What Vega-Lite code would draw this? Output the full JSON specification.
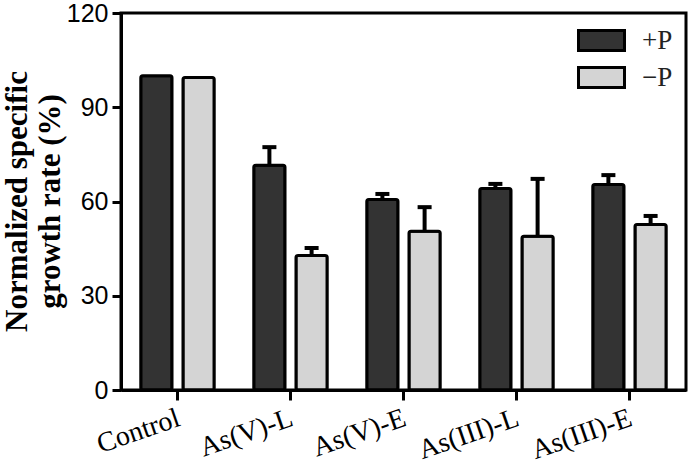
{
  "$schema": "https://vega.github.io/schema/vega-lite/v6.json",
  "width": 565,
  "height": 377,
  "autosize": "none",
  "padding": {"left": 121, "top": 13, "right": 5, "bottom": 75},
  "background": "white",
  "data": {
    "values": [
      {"group": "Control", "treatment": "+P", "value": 100, "upper": null},
      {"group": "Control", "treatment": "−P", "value": 99.5, "upper": null},
      {"group": "As(V)-L", "treatment": "+P", "value": 71.5, "upper": 77.3},
      {"group": "As(V)-L", "treatment": "−P", "value": 42.8, "upper": 45.2},
      {"group": "As(V)-E", "treatment": "+P", "value": 60.6, "upper": 62.4},
      {"group": "As(V)-E", "treatment": "−P", "value": 50.5, "upper": 58.2},
      {"group": "As(III)-L", "treatment": "+P", "value": 64.1, "upper": 65.6},
      {"group": "As(III)-L", "treatment": "−P", "value": 48.9, "upper": 67.2},
      {"group": "As(III)-E", "treatment": "+P", "value": 65.4, "upper": 68.4},
      {"group": "As(III)-E", "treatment": "−P", "value": 52.7, "upper": 55.4}
    ]
  },
  "encoding": {
    "x": {
      "field": "group",
      "type": "nominal",
      "sort": ["Control", "As(V)-L", "As(V)-E", "As(III)-L", "As(III)-E"],
      "scale": {"paddingInner": 0.35, "paddingOuter": 0.175},
      "axis": {
        "title": null,
        "labelAngle": -19,
        "labelAlign": "right",
        "labelBaseline": "top",
        "labelPadding": 4,
        "labelOffset": -3,
        "labelFont": "Liberation Serif",
        "labelFontSize": 28,
        "tickSize": 10
      }
    },
    "xOffset": {
      "field": "treatment",
      "type": "nominal",
      "sort": ["+P", "−P"],
      "scale": {"paddingInner": 0.26, "paddingOuter": 0}
    }
  },
  "layer": [
    {
      "transform": [{"filter": "datum.upper != null"}],
      "mark": {"type": "rule", "strokeWidth": 4, "color": "black"},
      "encoding": {
        "y": {"field": "value", "type": "quantitative", "scale": {"domain": [0, 120]}, "axis": {"values": [0, 30, 60, 90, 120]}, "title": ["Normalized specific", "growth rate (%)"]},
        "y2": {"field": "upper"}
      }
    },
    {
      "transform": [{"filter": "datum.upper != null"}],
      "mark": {"type": "tick", "thickness": 4, "size": 14, "color": "black", "opacity": 1},
      "encoding": {
        "y": {"field": "upper", "type": "quantitative", "scale": {"domain": [0, 120]}, "axis": {"values": [0, 30, 60, 90, 120]}, "title": ["Normalized specific", "growth rate (%)"]}
      }
    },
    {
      "mark": {"type": "bar", "stroke": "black", "strokeWidth": 3, "cornerRadius": 2},
      "encoding": {
        "y": {"field": "value", "type": "quantitative", "scale": {"domain": [0, 120]}, "axis": {"values": [0, 30, 60, 90, 120]}, "title": ["Normalized specific", "growth rate (%)"]},
        "color": {
          "field": "treatment",
          "type": "nominal",
          "scale": {"domain": ["+P", "−P"], "range": ["#333333", "#d4d4d4"]},
          "legend": {
            "orient": "none",
            "legendX": 467,
            "legendY": 14,
            "title": null,
            "padding": 0,
            "symbolType": "M-2,-0.86H2V0.86H-2Z",
            "symbolSize": 529,
            "symbolStrokeColor": "black",
            "symbolStrokeWidth": 3,
            "symbolOpacity": 1,
            "labelFont": "Liberation Serif",
            "labelFontSize": 27,
            "labelColor": "#222222",
            "labelOffset": 27,
            "rowPadding": 4
          }
        }
      }
    }
  ],
  "config": {
    "view": {"stroke": "black", "strokeWidth": 3},
    "axis": {
      "domainColor": "black",
      "domainWidth": 3,
      "tickColor": "black",
      "tickWidth": 3,
      "tickSize": 9,
      "labelColor": "black",
      "grid": false,
      "titleColor": "black"
    },
    "axisY": {
      "labelFont": "Liberation Sans",
      "labelFontSize": 25,
      "labelPadding": 4,
      "titleFont": "Liberation Serif",
      "titleFontSize": 31,
      "titleFontWeight": "bold",
      "titleLineHeight": 33,
      "titleX": -88,
      "titleY": 188
    }
  }
}
